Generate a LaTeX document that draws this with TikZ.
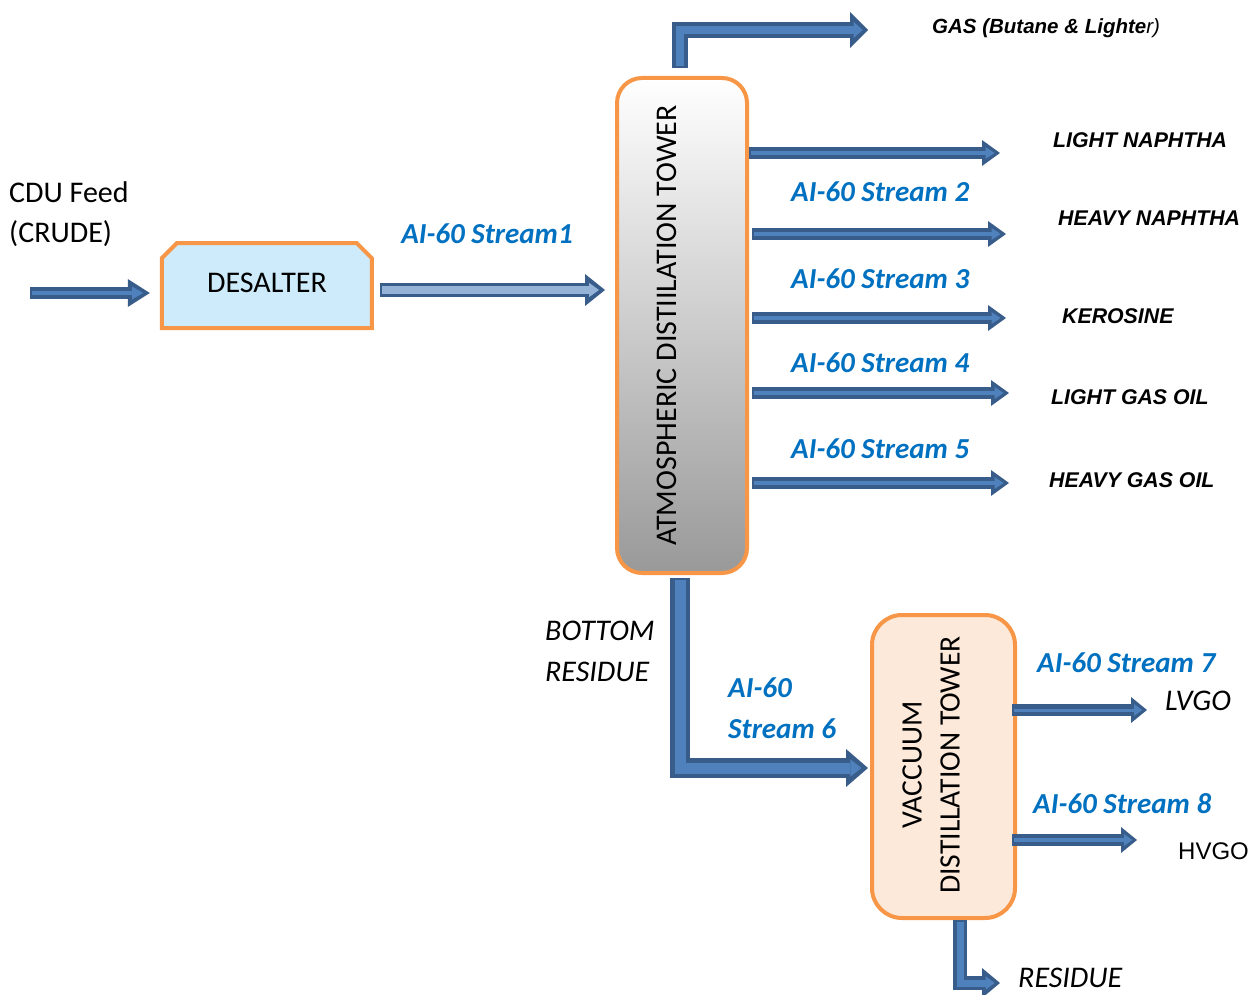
\documentclass[tikz,border=0pt]{standalone}
\usepackage{fontspec}
\setmainfont{Carlito}
\newfontfamily\arialf{Liberation Sans}
\usetikzlibrary{arrows.meta}
\definecolor{pdark}{HTML}{385D8A}
\definecolor{pfill}{HTML}{4F81BD}
\definecolor{plight}{HTML}{95B3D7}
\definecolor{orng}{HTML}{F79646}
\definecolor{sblue}{HTML}{0070C0}
\definecolor{desfill}{HTML}{CDEBFB}
\definecolor{vacfill}{HTML}{FDE9D9}
\tikzset{
  pipeouter/.style={draw=pdark, line join=miter, line cap=butt},
  blab/.style={font=\fontsize{29}{33}\selectfont\bfseries\itshape, text=sblue, inner sep=0pt, anchor=west},
  alab/.style={font=\arialf\fontsize{21.3}{24}\selectfont\bfseries\itshape, inner sep=0pt, anchor=west},
  clab/.style={font=\fontsize{30}{34}\selectfont, inner sep=0pt},
  ilab/.style={font=\fontsize{30}{34}\selectfont\itshape, inner sep=0pt, anchor=west},
  tower/.style={draw=orng, line width=4pt, rounded corners=#1, inner sep=0pt},
}
% s0, s1, width, tip length, tip width, inner ratio, inner colour, path
\newcommand\flowpipe[8]{%
  \pgfmathsetmacro\fpIW{#3*#6}%
  \pgfmathsetmacro\fpIL{#4*0.5}%
  \pgfmathsetmacro\fpIT{#5*0.45}%
  \pgfmathsetmacro\fpSa{#1+2}%
  \pgfmathsetmacro\fpSb{#2+#4*0.3}%
  \draw[pipeouter, line width=#3pt, shorten <=#1pt, shorten >=#2pt,
        -{Triangle[length=#4pt, width=#5pt, line width=0pt]}] #8;
  \draw[draw=#7, line join=miter, line width=\fpIW pt, shorten <=\fpSa pt, shorten >=\fpSb pt,
        -{Triangle[length=\fpIL pt, width=\fpIT pt, line width=0pt, fill=#7]}] #8;
}
\begin{document}
\begin{tikzpicture}[x=1pt, y=-1pt]
\useasboundingbox (0,0) rectangle (1259,995);

% ---- equipment
\node[minimum width=214pt, minimum height=89pt, inner sep=0pt] (des) at (267,285.5) {};
\filldraw[draw=orng, fill=desfill, line width=4pt, line join=miter]
  (des.south west) ++(2,-2) -- ++(0,-70) -- ++(15,-15) -- ++(180,0) -- ++(15,15) -- ++(0,70) -- cycle;
\node[clab] (dest) at (267,283) {DESALTER};

\node[tower=25pt, minimum width=130pt, minimum height=495pt,
      top color=white, bottom color=black!40] (atm) at (682,325.5) {};
\node[clab, rotate=90] (atmt) at (667,325.5) {ATMOSPHERIC DISTIILATION TOWER};

\node[tower=30pt, minimum width=143pt, minimum height=303pt, fill=vacfill] (vac) at (943.5,766.5) {};
\node[clab, rotate=90, align=center, font=\fontsize{29.6}{38}\selectfont] (vact) at (931,765)
  {VACCUUM\\DISTILLATION TOWER};

% ---- coordinates for free ends
\coordinate (feedS) at (30,293);
\coordinate (r1) at (0,290);
\coordinate (gx) at (680,0);
\coordinate (gasE) at (868,30);
\coordinate (c2) at (1000,153);
\coordinate (c3) at (1006,234);
\coordinate (c4) at (1006,318);
\coordinate (c5) at (1009,393);
\coordinate (c6) at (1009,483);
\coordinate (r6) at (0,768);
\coordinate (c7) at (1147,710);
\coordinate (c8) at (1137,840);
\coordinate (rx) at (960,0);
\coordinate (resE) at (1000,983);

% ---- streams
\flowpipe{0}{10}{12}{22}{28}{0.3}{pfill}{(feedS) -- (des.west |- feedS)}
\flowpipe{6}{10}{14}{20}{32}{0.55}{plight}{(des.east |- r1) -- (atm.west |- r1)}
\flowpipe{8}{0}{16}{18}{36}{0.55}{pfill}{(atm.north -| gx) |- (gasE)}
\flowpipe{0}{0}{12}{18}{26}{0.3}{pfill}{(atm.east |- c2) -- (c2)}
\flowpipe{3}{0}{12}{18}{26}{0.3}{pfill}{(atm.east |- c3) -- (c3)}
\flowpipe{3}{0}{12}{18}{26}{0.3}{pfill}{(atm.east |- c4) -- (c4)}
\flowpipe{3}{0}{12}{18}{26}{0.3}{pfill}{(atm.east |- c5) -- (c5)}
\flowpipe{3}{0}{12}{18}{26}{0.3}{pfill}{(atm.east |- c6) -- (c6)}
\flowpipe{3}{2}{20}{22}{38}{0.55}{pfill}{(atm.south -| gx) |- (vac.west |- r6)}
\flowpipe{-5}{0}{12}{16}{26}{0.25}{pfill}{(vac.east |- c7) -- (c7)}
\flowpipe{-5}{0}{12}{16}{26}{0.3}{pfill}{(vac.east |- c8) -- (c8)}
\flowpipe{0}{0}{14}{18}{30}{0.5}{pfill}{(vac.south -| rx) |- (resE)}

% ---- labels
\node[clab, anchor=west] (feed1) at (9,192) {CDU Feed};
\node[clab, anchor=west] (feed2) at (9,234) {(CRUDE)};
\node[blab, anchor=center] (s1) at (487,234) {AI-60 Stream1};
\node[alab, font=\arialf\fontsize{20.5}{24}\selectfont\bfseries\itshape] (gas) at (932,28)
  {GAS (Butane \& Lighte{\mdseries r)}};
\node[alab] (ln) at (1053,140) {LIGHT NAPHTHA};
\node[alab] (hn) at (1058,218) {HEAVY NAPHTHA};
\node[alab] (ker) at (1062,316) {KEROSINE};
\node[alab] (lgo) at (1051,397) {LIGHT GAS OIL};
\node[alab] (hgo) at (1049,480) {HEAVY GAS OIL};
\node[blab] (s2) at (791,192) {AI-60 Stream 2};
\node[blab] (s3) at (791,279) {AI-60 Stream 3};
\node[blab] (s4) at (791,363) {AI-60 Stream 4};
\node[blab] (s5) at (791,449) {AI-60 Stream 5};
\node[ilab] (bot1) at (545,631) {BOTTOM};
\node[ilab] (bot2) at (545,672) {RESIDUE};
\node[blab] (s6a) at (728,688) {AI-60};
\node[blab] (s6b) at (728,729) {Stream 6};
\node[blab] (s7) at (1037,663) {AI-60 Stream 7};
\node[blab] (s8) at (1033,804) {AI-60 Stream 8};
\node[ilab] (lvgo) at (1165,701) {LVGO};
\node[anchor=west, inner sep=0pt, font=\arialf\fontsize{24}{28}\selectfont] (hvgo) at (1178,851) {HVGO};
\node[ilab] (res) at (1018,978) {RESIDUE};
\end{tikzpicture}
\end{document}
